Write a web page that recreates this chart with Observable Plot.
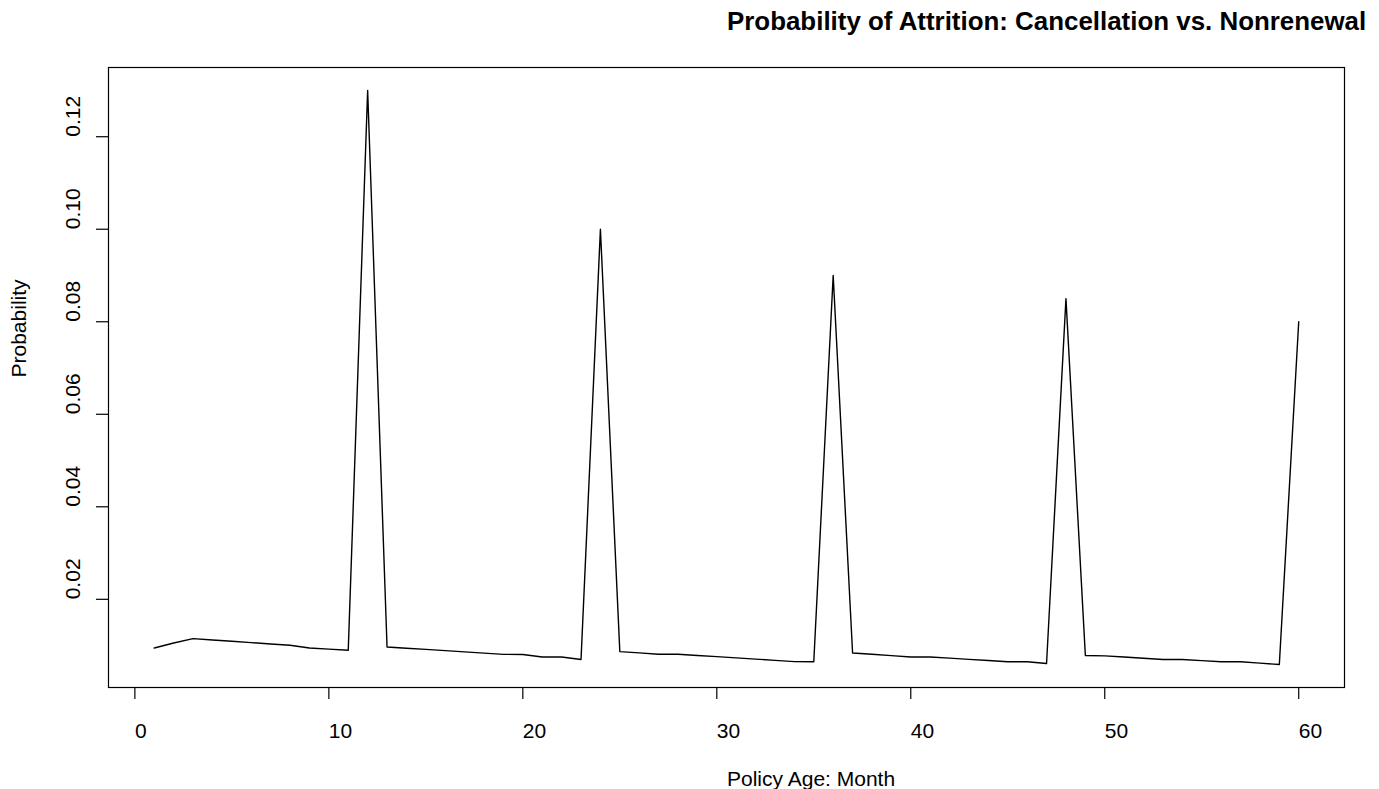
<!DOCTYPE html>
<html>
<head>
<meta charset="utf-8">
<script src="https://cdn.jsdelivr.net/npm/d3@7"></script>
<script src="https://cdn.jsdelivr.net/npm/@observablehq/plot@0.6"></script>
<style>
  html, body { margin: 0; padding: 0; background: #fff; }
  #chart svg { display: block; }
</style>
</head>
<body>
<div id="chart"></div>
<script>
const titleText = "Probability of Attrition: Cancellation vs. Nonrenewal";
const xLabel = "Policy Age: Month";
const yLabel = "Probability";

const months = [
  1, 2, 3, 4, 5, 6, 7, 8, 9, 10,
  11, 12, 13, 14, 15, 16, 17, 18, 19, 20,
  21, 22, 23, 24, 25, 26, 27, 28, 29, 30,
  31, 32, 33, 34, 35, 36, 37, 38, 39, 40,
  41, 42, 43, 44, 45, 46, 47, 48, 49, 50,
  51, 52, 53, 54, 55, 56, 57, 58, 59, 60
];
const probability = [
  0.00948, 0.01056, 0.01151, 0.01122, 0.01093, 0.01064, 0.01035, 0.01006, 0.00948, 0.00924,
  0.00900, 0.13000, 0.00970, 0.00943, 0.00917, 0.00890, 0.00863, 0.00837, 0.00810, 0.00806,
  0.00754, 0.00754, 0.00700, 0.10000, 0.00870, 0.00841, 0.00812, 0.00812, 0.00786, 0.00760,
  0.00733, 0.00707, 0.00680, 0.00654, 0.00650, 0.09000, 0.00840, 0.00811, 0.00783, 0.00754,
  0.00754, 0.00728, 0.00702, 0.00676, 0.00650, 0.00650, 0.00611, 0.08500, 0.00784, 0.00778,
  0.00753, 0.00727, 0.00700, 0.00700, 0.00675, 0.00650, 0.00650, 0.00620, 0.00590, 0.08000
];
const xTicks = [0, 10, 20, 30, 40, 50, 60];
const yTicks = [0.02, 0.04, 0.06, 0.08, 0.10, 0.12];

const data = months.map((m, i) => ({month: m, p: probability[i]}));

// R-style 4% axis extension
const xExt = (d3.max(months) - d3.min(months)) * 0.04;
const yExt = (d3.max(probability) - d3.min(probability)) * 0.04;

const fontFamily = "'Liberation Sans', Arial, sans-serif";

const chart = Plot.plot({
  width: 1379,
  height: 789,
  marginLeft: 108,
  marginRight: 35,
  marginTop: 67,
  marginBottom: 102,
  style: {fontFamily, fontSize: "21px", color: "#000", background: "#fff"},
  x: {domain: [d3.min(months) - xExt, d3.max(months) + xExt]},
  y: {domain: [d3.min(probability) - yExt, d3.max(probability) + yExt]},
  marks: [
    Plot.frame({stroke: "#000", strokeWidth: 1.2}),
    Plot.axisX(xTicks, {tickSize: 12, tickFormat: () => "", label: null, stroke: "#000", strokeWidth: 1.2}),
    Plot.axisY(yTicks, {tickSize: 12, tickFormat: () => "", label: null, stroke: "#000", strokeWidth: 1.2}),
    Plot.text(xTicks, {
      x: d => d, text: d => String(d), frameAnchor: "bottom",
      dy: 50, textAnchor: "start", lineAnchor: "bottom", fontSize: 21, fill: "#000"
    }),
    Plot.text(yTicks, {
      y: d => d, text: d => d.toFixed(2), frameAnchor: "left",
      dx: -29, rotate: -90, textAnchor: "start", lineAnchor: "bottom", fontSize: 21, fill: "#000"
    }),
    Plot.line(data, {x: "month", y: "p", stroke: "#000", strokeWidth: 1.4}),
    Plot.text([titleText], {
      text: d => d, frameAnchor: "top", textAnchor: "start", lineAnchor: "bottom",
      dx: 0.5, dy: -38, fontSize: 25.9, fontWeight: "bold", fill: "#000"
    }),
    Plot.text([xLabel], {
      text: d => d, frameAnchor: "bottom", textAnchor: "start", lineAnchor: "bottom",
      dx: 0.5, dy: 98, fontSize: 21, fill: "#000"
    }),
    Plot.text([yLabel], {
      text: d => d, frameAnchor: "left", textAnchor: "start", lineAnchor: "bottom",
      dx: -83, rotate: -90, fontSize: 21, fill: "#000"
    })
  ]
});
document.getElementById("chart").appendChild(chart);
</script>
</body>
</html>
